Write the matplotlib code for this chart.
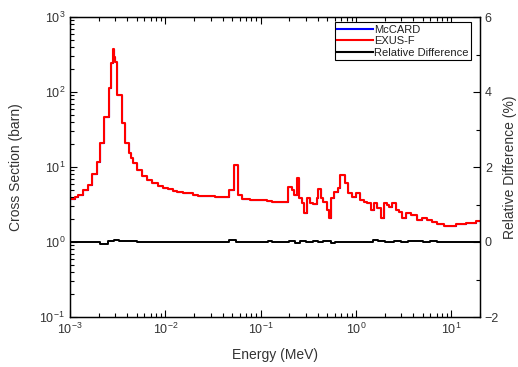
import matplotlib
matplotlib.use("Agg")
import matplotlib.pyplot as plt
from matplotlib.ticker import LogLocator, NullFormatter, MultipleLocator
import numpy as np

plt.rcParams['font.family'] = ['Liberation Sans', 'DejaVu Sans']
plt.rcParams['mathtext.fontset'] = 'custom'
plt.rcParams['mathtext.rm'] = 'Liberation Sans'
plt.rcParams['mathtext.it'] = 'Liberation Sans'

# Energy bin edges (MeV) and cross section per bin (barn)
energy_edges = [1.00e-3, 1.13e-3, 1.21e-3, 1.37e-3, 1.54e-3, 1.70e-3, 1.92e-3, 2.06e-3,
                2.27e-3, 2.56e-3, 2.69e-3, 2.82e-3, 2.89e-3, 2.96e-3, 3.10e-3, 3.50e-3,
                3.77e-3, 4.15e-3, 4.36e-3, 4.57e-3, 5.03e-3, 5.68e-3, 6.40e-3, 7.22e-3,
                8.35e-3, 9.41e-3, 1.06e-2, 1.20e-2, 1.32e-2, 1.52e-2, 1.94e-2, 2.19e-2,
                3.30e-2, 4.62e-2, 5.21e-2, 5.74e-2, 6.32e-2, 7.67e-2, 8.65e-2, 0.116,
                0.130, 0.192, 0.211, 0.222, 0.238, 0.250, 0.269, 0.282, 0.303, 0.326,
                0.351, 0.386, 0.395, 0.425, 0.446, 0.491, 0.515, 0.553, 0.595, 0.640,
                0.688, 0.758, 0.834, 0.919, 1.01, 1.09, 1.20, 1.32, 1.45, 1.56, 1.68,
                1.85, 1.99, 2.14, 2.24, 2.41, 2.65, 2.85, 3.07, 3.38, 3.81, 4.40, 4.97,
                5.61, 6.32, 7.13, 8.45, 11.3, 14.4, 18.3, 20.0]
exus_xs = [3.74, 3.98, 4.24, 4.94, 5.75, 8.07, 11.7, 20.9,
           46.4, 113, 244, 374, 290, 251, 91.2, 38.6,
           20.9, 15.4, 13.2, 11.3, 9.12, 7.59, 6.71, 6.12,
           5.58, 5.25, 5.09, 4.85, 4.70, 4.50, 4.24, 4.11,
           3.98, 4.94, 10.6, 4.24, 3.74, 3.63, 3.58, 3.52,
           3.41, 5.41, 4.94, 4.24, 7.13, 3.86, 3.31, 2.44, 3.86, 3.31,
           3.21, 3.86, 5.09, 3.86, 3.41, 2.67, 2.09, 3.86, 4.64, 5.25,
           7.82, 6.12, 4.50, 3.98, 4.50, 3.63, 3.41, 3.31, 2.67, 3.31, 2.84,
           2.09, 3.31, 3.11, 2.93, 3.31, 2.67, 2.51, 2.09, 2.44, 2.29, 1.96, 2.09,
           1.96, 1.85, 1.74, 1.63, 1.74, 1.79, 1.90]
mccard_xs = list(exus_xs)

# Relative difference (%)
rd_edges = [1.0e-3, 2.06e-3, 2.5e-3, 2.9e-3, 3.3e-3, 5.0e-3, 4.6e-2, 5.5e-2, 0.12, 0.13,
            0.2, 0.23, 0.26, 0.3, 0.35, 0.4, 0.45, 0.5, 0.55, 0.6, 1.5, 1.7, 2.0,
            2.5, 3.0, 3.5, 4.0, 5.0, 6.0, 7.0, 20.0]
rd_vals = [0.0, -0.04, 0.02, 0.05, 0.03, 0.0, 0.06, 0.0, 0.02, 0.0,
           0.02, -0.02, 0.03, 0.01, 0.03, -0.01, 0.02, 0.03, -0.02, 0.0, 0.05, 0.03,
           0.01, 0.02, -0.01, 0.02, 0.02, 0.01, 0.02, 0.0]

fig = plt.figure(figsize=(5.18, 3.67), dpi=100)
ax = fig.add_axes([70/518, 50/367, 410/518, 300/367])
ax2 = ax.twinx()

l1, = ax.step(energy_edges, mccard_xs + [mccard_xs[-1]], where='post', color='#0000ff', lw=0.8, label='McCARD')
l2, = ax.step(energy_edges, exus_xs + [exus_xs[-1]], where='post', color='#ff0000', lw=1.5, label='EXUS-F')
l3, = ax2.step(rd_edges, rd_vals + [rd_vals[-1]], where='post', color='black', lw=1.4, label='Relative Difference')

ax.set_xscale('log')
ax.set_yscale('log')
ax.set_xlim(1e-3, 20)
ax.set_ylim(0.1, 1000)
ax2.set_ylim(-2, 6)
ax2.yaxis.set_major_locator(MultipleLocator(2))
ax2.yaxis.set_minor_locator(MultipleLocator(1))

ax.xaxis.set_major_locator(LogLocator(base=10, numticks=10))
ax.xaxis.set_minor_locator(LogLocator(base=10, subs=np.arange(2, 10), numticks=20))
ax.xaxis.set_minor_formatter(NullFormatter())
ax.yaxis.set_major_locator(LogLocator(base=10, numticks=10))
ax.yaxis.set_minor_locator(LogLocator(base=10, subs=np.arange(2, 10), numticks=20))
ax.yaxis.set_minor_formatter(NullFormatter())

tc = '#333333'
ax.tick_params(which='both', direction='in', top=True, right=False, labelsize=9, labelcolor=tc, width=0.8)
ax.tick_params(which='major', length=5)
ax.tick_params(which='minor', length=3)
ax2.tick_params(which='both', direction='in', labelsize=9, labelcolor=tc, width=0.8)
ax2.tick_params(which='major', length=5)
ax2.tick_params(which='minor', length=3)

for a in (ax, ax2):
    for s in a.spines.values():
        s.set_linewidth(0.9)

ax.set_xlabel('Energy (MeV)', fontsize=10, color=tc, labelpad=8)
ax.set_ylabel('Cross Section (barn)', fontsize=10, color=tc, labelpad=12)
ax2.set_ylabel('Relative Difference (%)', fontsize=10, color=tc, labelpad=3)

leg = ax.legend(handles=[l1, l2, l3], loc='upper right', bbox_to_anchor=(0.977, 0.982),
                fontsize=8, frameon=True, fancybox=False, framealpha=1,
                edgecolor='black', borderpad=0.2, handlelength=3.2, handletextpad=0.1,
                labelspacing=0.15, borderaxespad=0)
leg.get_frame().set_linewidth(0.8)
for line in leg.get_lines():
    line.set_linewidth(1.5)
for t in leg.get_texts():
    t.set_color('#222222')

fig.savefig('out.png', dpi=100)
